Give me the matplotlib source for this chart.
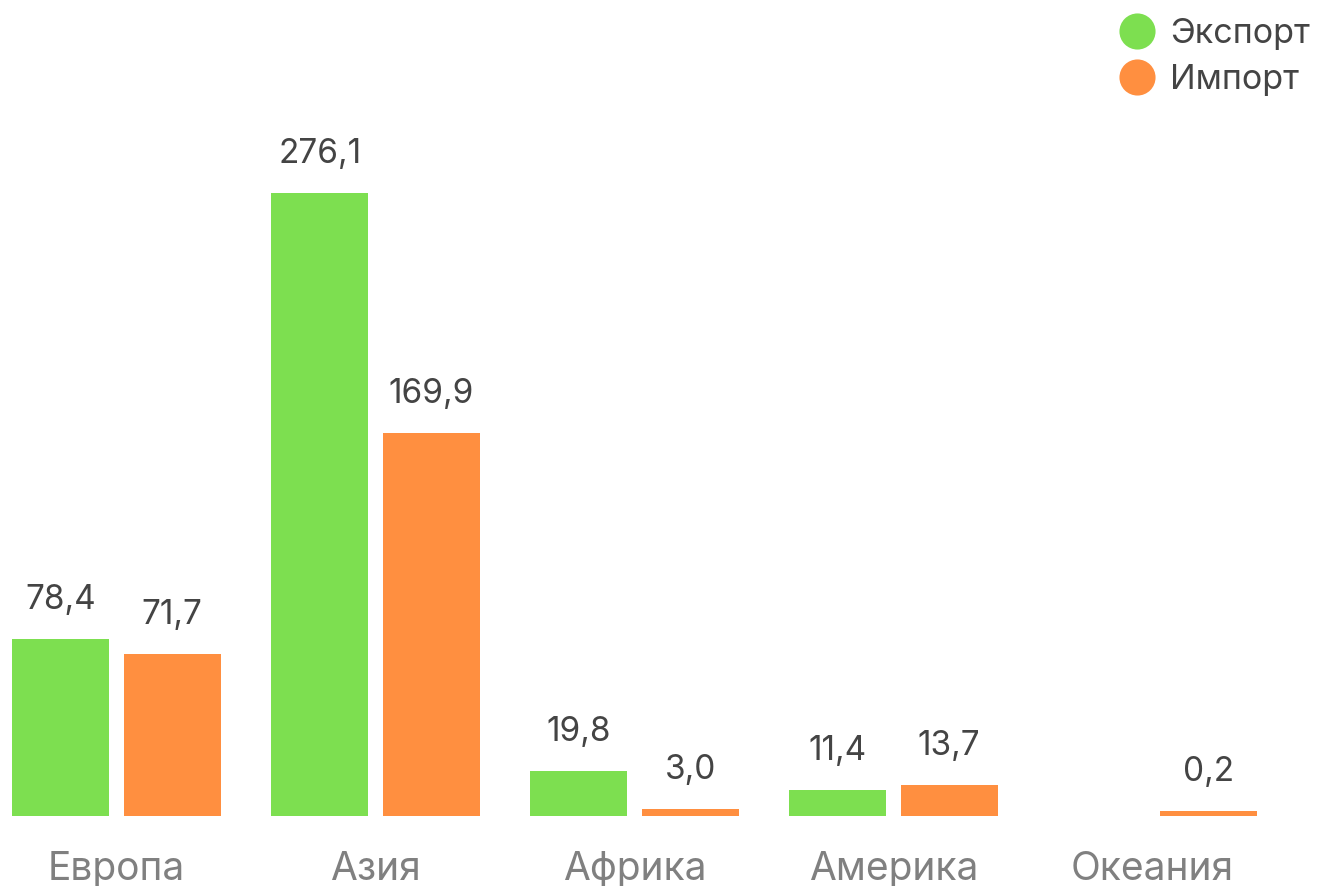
import numpy as np
import matplotlib
matplotlib.use('Agg')
import matplotlib.pyplot as plt
from matplotlib.lines import Line2D

plt.rcParams['font.family'] = ['Inter', 'DejaVu Sans']

regions = ['Европа', 'Азия', 'Африка', 'Америка', 'Океания']
export_vals = [78.4, 276.1, 19.8, 11.4, None]
import_vals = [71.7, 169.9, 3.0, 13.7, 0.2]
series_names = ['Экспорт', 'Импорт']

GREEN = '#7ddf50'
ORANGE = '#ff8f40'
LABEL = '#444444'
TICK = '#808080'

W, H = 1317, 886
fig = plt.figure(figsize=(W / 100, H / 100), dpi=100)
# axes spans the whole width; baseline 70 px from the bottom
ax = fig.add_axes([0, 70 / H, 1, 1 - 70 / H])
ax.set_xlim(-116.5 / 259, (W - 116.5) / 259)
ax.set_ylim(0, 816 / 2.257)

x = np.arange(len(regions))
bw = 0.375
off = 0.215
min_h = 2.2  # smallest visible bar

def draw(vals, dx, color):
    for xi, v in zip(x, vals):
        if v is None:
            continue
        ax.bar(xi + dx, max(v, min_h), width=bw, color=color, linewidth=0)
        ax.annotate(('%.1f' % v).replace('.', ','), (xi + dx, max(v, min_h)),
                    xytext=(0, 21.5), textcoords='offset points',
                    ha='center', va='baseline', fontsize=24, color=LABEL)

draw(export_vals, -off, GREEN)
draw(import_vals, off, ORANGE)

for xi, name in zip(x, regions):
    ax.annotate(name, (xi, 0), xytext=(0, -46), textcoords='offset points',
                ha='center', va='baseline', fontsize=28, color=TICK)

ax.axis('off')

# legend: circles + labels, placed in pixels from the top-left corner
for (cy, c, name) in zip((31, 77), (GREEN, ORANGE), series_names):
    fig.add_artist(Line2D([1137 / W], [1 - cy / H], marker='o', ls='', ms=26,
                          color=c, mec='none', transform=fig.transFigure))
    fig.text(1170 / W, 1 - cy / H, name, ha='left', va='center_baseline',
             fontsize=24.5, color=LABEL)

fig.savefig('out.png', dpi=100)
